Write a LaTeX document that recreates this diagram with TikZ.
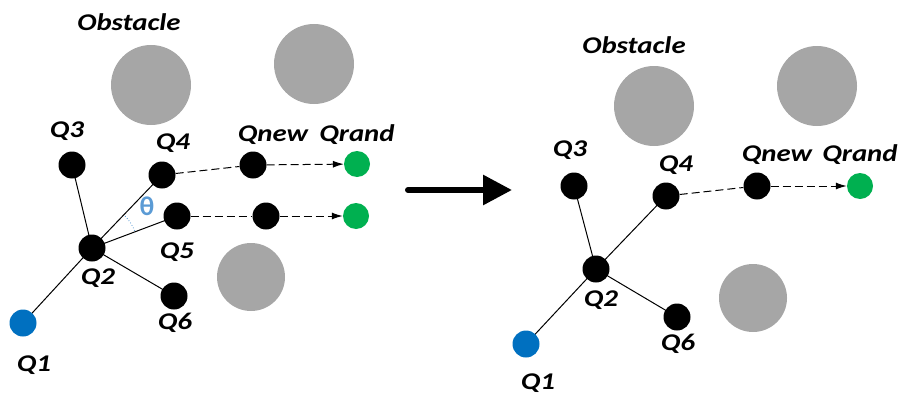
\documentclass[tikz,border=0pt]{standalone}
\usepackage{fontspec}
\usetikzlibrary{arrows.meta,calc}
\newfontfamily\lblfont[FakeStretch=1.2,
  BoldFeatures={FakeStretch=1.2},
  ItalicFeatures={FakeStretch=1.2},
  BoldItalicFeatures={FakeStretch=1.2}]{Carlito}
\newfontfamily\greekfont{Carlito}
\definecolor{obsgray}{HTML}{A6A6A6}
\definecolor{goalgreen}{HTML}{00B050}
\definecolor{startblue}{HTML}{0070C0}
\definecolor{anglblue}{HTML}{5B9BD5}
\tikzset{
  vertex/.style={circle,fill=black,minimum size=27pt,inner sep=0pt},
  goal/.style={circle,fill=goalgreen,minimum size=26pt,inner sep=0pt},
  start/.style={circle,fill=startblue,minimum size=27pt,inner sep=0pt},
  obstacle/.style={circle,fill=obsgray,inner sep=0pt},
  lbl/.style={font=\lblfont\bfseries\itshape\fontsize{24}{28}\selectfont,inner sep=0pt},
  edge/.style={line width=1pt},
  extend/.style={line width=1pt,dash pattern=on 8pt off 4pt},
  extendarrow/.style={extend,-{Latex[length=11pt,width=7pt]}},
  bigarrow/.style={line width=6pt,line cap=round,-{Triangle[length=29pt,width=29pt]}}
}
\begin{document}
\begin{tikzpicture}[x=1pt,y=-1pt]
\useasboundingbox (0,0) rectangle (901,396);

% ---------- left panel: tree before extension ----------
\node[obstacle,minimum size=80pt] (LobsA) at (151,85) {};
\node[obstacle,minimum size=80pt] (LobsB) at (314,64) {};
\node[obstacle,minimum size=68pt] (LobsC) at (251,277) {};
\node[lbl] (LobsT) at (129,22) {Obstacle};

\coordinate (LQ1c) at (23,323);
\coordinate (LQ2c) at (92,248);
\coordinate (LQ3c) at (72,165);
\coordinate (LQ4c) at (162,175);
\coordinate (LQ5c) at (177,216);
\coordinate (LQ6c) at (174,296);

\draw[edge] (LQ2c) -- (LQ1c);
\draw[edge] (LQ2c) -- (LQ3c);
\draw[edge] (LQ2c) -- (LQ4c);
\draw[edge] (LQ2c) -- (LQ5c);
\draw[edge] (LQ2c) -- (LQ6c);

\node[start]  (LQ1) at (LQ1c) {};
\node[vertex] (LQ2) at (LQ2c) {};
\node[vertex] (LQ3) at (LQ3c) {};
\node[vertex] (LQ4) at (LQ4c) {};
\node[vertex] (LQ5) at (LQ5c) {};
\node[vertex] (LQ6) at (LQ6c) {};
\node[vertex] (LQnew) at (253,165) {};
\node[goal]   (LQrand) at (357,164) {};
\node[vertex] (LQnewB) at (266,216) {};
\node[goal]   (LQrandB) at (356,216) {};

\draw[extend] (LQ4) -- (LQnew);
\draw[extendarrow] (LQnew) -- (LQrand);
\draw[extend] (LQ5) -- (LQnewB);
\draw[extendarrow] (LQnewB) -- (LQrandB);

% angle between the two candidate branches
\draw[anglblue,line width=0.8pt,dotted] ($(LQ2c)+(22:46pt)$) arc[start angle=22,end angle=45,radius=46pt];
\node[text=anglblue,font=\greekfont\bfseries\fontsize{27}{30}\selectfont,inner sep=0pt] (Ltheta) at (147,206) {θ};

\node[lbl] (LQ1t) at (34,365) {Q1};
\node[lbl] (LQ2t) at (98,278) {Q2};
\node[lbl] (LQ3t) at (67,131) {Q3};
\node[lbl] (LQ4t) at (173,143) {Q4};
\node[lbl] (LQ5t) at (177,252) {Q5};
\node[lbl] (LQ6t) at (175,323) {Q6};
\node[lbl] (LQnewt) at (273,135) {Qnew};
\node[lbl] (LQrandt) at (357,135) {Qrand};

% ---------- transition arrow ----------
\coordinate (arrowstart) at (408,190);
\coordinate (arrowend) at (512,190);
\draw[bigarrow] (arrowstart) -- (arrowend);

% ---------- right panel: tree after extension ----------
\node[obstacle,minimum size=80pt] (RobsA) at (654,106) {};
\node[obstacle,minimum size=80pt] (RobsB) at (817,86) {};
\node[obstacle,minimum size=68pt] (RobsC) at (753,298) {};
\node[lbl] (RobsT) at (634,45) {Obstacle};

\coordinate (RQ1c) at (526,344);
\coordinate (RQ2c) at (596,269);
\coordinate (RQ3c) at (574,186);
\coordinate (RQ4c) at (666,196);
\coordinate (RQ6c) at (677,317);

\draw[edge] (RQ2c) -- (RQ1c);
\draw[edge] (RQ2c) -- (RQ3c);
\draw[edge] (RQ2c) -- (RQ4c);
\draw[edge] (RQ2c) -- (RQ6c);

\node[start]  (RQ1) at (RQ1c) {};
\node[vertex] (RQ2) at (RQ2c) {};
\node[vertex] (RQ3) at (RQ3c) {};
\node[vertex] (RQ4) at (RQ4c) {};
\node[vertex] (RQ6) at (RQ6c) {};
\node[vertex] (RQnew) at (757,186) {};
\node[goal]   (RQrand) at (860,186) {};

\draw[extend] (RQ4) -- (RQnew);
\draw[extendarrow] (RQnew) -- (RQrand);

\node[lbl] (RQ1t) at (538,383) {Q1};
\node[lbl] (RQ2t) at (601,300) {Q2};
\node[lbl] (RQ3t) at (570,150) {Q3};
\node[lbl] (RQ4t) at (676,165) {Q4};
\node[lbl] (RQ6t) at (678,344) {Q6};
\node[lbl] (RQnewt) at (777,155) {Qnew};
\node[lbl] (RQrandt) at (860,155) {Qrand};
\end{tikzpicture}
\end{document}
